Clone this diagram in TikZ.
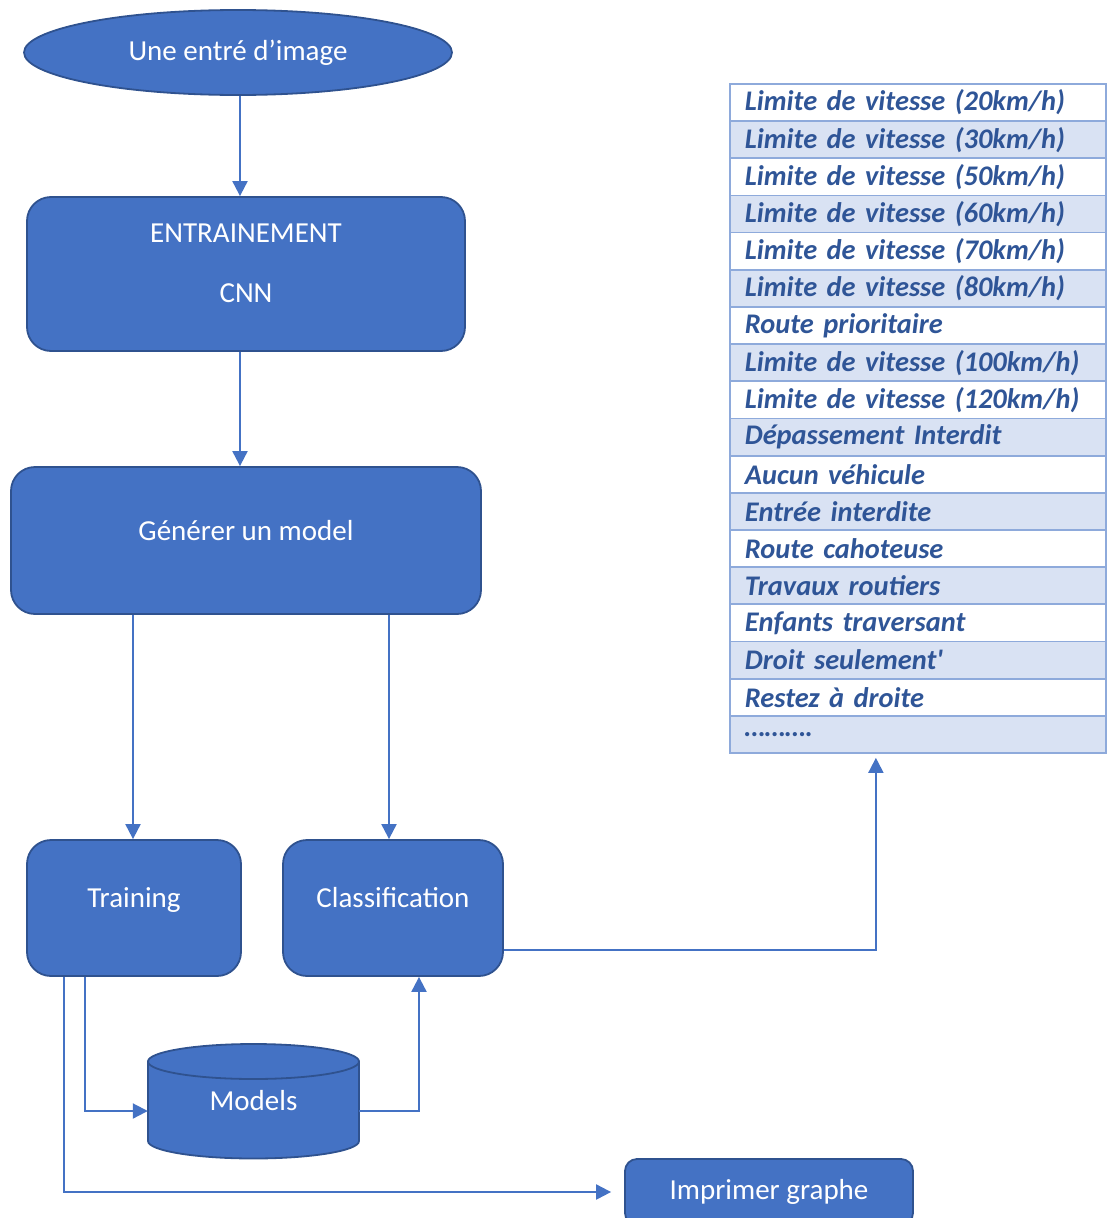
\documentclass[tikz,border=0pt]{standalone}
\usepackage{fontspec}
\setmainfont{Carlito}[Ligatures=TeXOff]
\usetikzlibrary{shapes.geometric,arrows.meta}
\definecolor{fillblue}{HTML}{4472C4}
\definecolor{edgeblue}{HTML}{2F528F}
\definecolor{rowblue}{HTML}{D9E2F3}
\definecolor{gridblue}{HTML}{8EAADB}
\definecolor{textblue}{HTML}{2F5597}
\begin{document}
\begin{tikzpicture}[x=1pt,y=-1pt,
  boxnode/.style={draw=edgeblue, fill=fillblue, line width=1.8pt, rounded corners=24pt,
    text=white, font=\fontsize{29}{35}\selectfont, inner sep=0pt, align=center},
  raised/.style={text height=20pt, text depth=21pt},
  boxtext/.style={text=white, font=\fontsize{29}{35}\selectfont, inner sep=0pt, align=center},
  conn/.style={draw=fillblue, line width=2pt, -{Triangle[length=15pt,width=15pt]}},
  tabrow/.style={draw=gridblue, line width=1.8pt, minimum width=376pt, minimum height=37.17pt,
    text width=346pt, inner xsep=15pt, inner ysep=0pt, align=left, anchor=north west,
    text=textblue, font=\fontsize{28.4}{30}\selectfont\bfseries\itshape},
]
\useasboundingbox (0,0) rectangle (1106,1218);

% input ellipse
\node[ellipse, draw=edgeblue, fill=fillblue, line width=1.8pt, minimum width=428pt,
  minimum height=85pt, inner sep=0pt, text=white, font=\fontsize{29}{35}\selectfont]
  (in) at (238,52.5) {Une entré d’image};

% training CNN box
\node[boxnode, minimum width=438pt, minimum height=154pt] (train) at (246,274) {};
\node[boxtext] (traintxt) at (246,263) {ENTRAINEMENT\\[25pt]CNN};

% generate model
\node[boxnode, raised, minimum width=470pt, minimum height=147pt] (gen) at (246,540.5) {Générer un model};

% training / classification
\node[boxnode, raised, minimum width=214pt, minimum height=136pt] (training) at (134,908) {Training};
\node[boxnode, raised, minimum width=220pt, minimum height=136pt] (classif) at (393,908) {Classification};

% cylinder
\path[draw=edgeblue, fill=fillblue, line width=1.8pt]
  (148,1061.5) -- (148,1141) arc[start angle=180, end angle=360, x radius=105.5pt, y radius=17.5pt]
  -- (359,1061.5) -- cycle;
\draw[draw=edgeblue, fill=fillblue, line width=1.8pt] (253.5,1061.5) ellipse[x radius=105.5pt, y radius=17.5pt];
\node[minimum width=211pt, minimum height=114pt, inner sep=0pt, text=white,
  font=\fontsize{29}{35}\selectfont] (models) at (253.5,1101) {Models};

% print
\node[boxnode, rounded corners=12pt, minimum width=288pt, minimum height=66pt] (print) at (769,1192) {Imprimer graphe};

% table
\foreach \t [count=\i from 0] in {Limite de vitesse (20km/h), Limite de vitesse (30km/h),
  Limite de vitesse (50km/h), Limite de vitesse (60km/h), Limite de vitesse (70km/h),
  Limite de vitesse (80km/h), Route prioritaire, Limite de vitesse (100km/h),
  Limite de vitesse (120km/h), Dépassement Interdit, Aucun véhicule, Entrée interdite,
  Route cahoteuse, Travaux routiers, Enfants traversant, Droit seulement', Restez à droite,
  ……….}{
  \pgfmathsetmacro\ytop{83+\i*37.17}
  \ifodd\i
    \node[tabrow, fill=rowblue] (r\i) at (729,\ytop) {\t};
  \else
    \node[tabrow, fill=white] (r\i) at (729,\ytop) {\t};
  \fi
}

% connectors
\draw[conn] ([xshift=2pt]in.south) -- ([xshift=2pt]in.south |- train.north);
\draw[conn] ([xshift=2pt]in.south |- train.south) -- ([xshift=2pt]in.south |- gen.north);
\draw[conn] ([xshift=-1pt]training.north |- gen.south) -- ([xshift=-1pt]training.north);
\draw[conn] ([xshift=-4pt]classif.north |- gen.south) -- ([xshift=-4pt]classif.north);
\draw[conn, shorten >=4pt] ([yshift=-42pt]classif.east) -| ([xshift=-42pt]r17.south);
\draw[conn] ([xshift=-49pt]training.south) |- ([yshift=-10pt]models.west);
\draw[conn] ([yshift=-10pt]models.east) -| ([xshift=26pt]classif.south);
\draw[conn, shorten >=13pt] ([xshift=-70pt]training.south) |- (print.west);
\end{tikzpicture}
\end{document}
